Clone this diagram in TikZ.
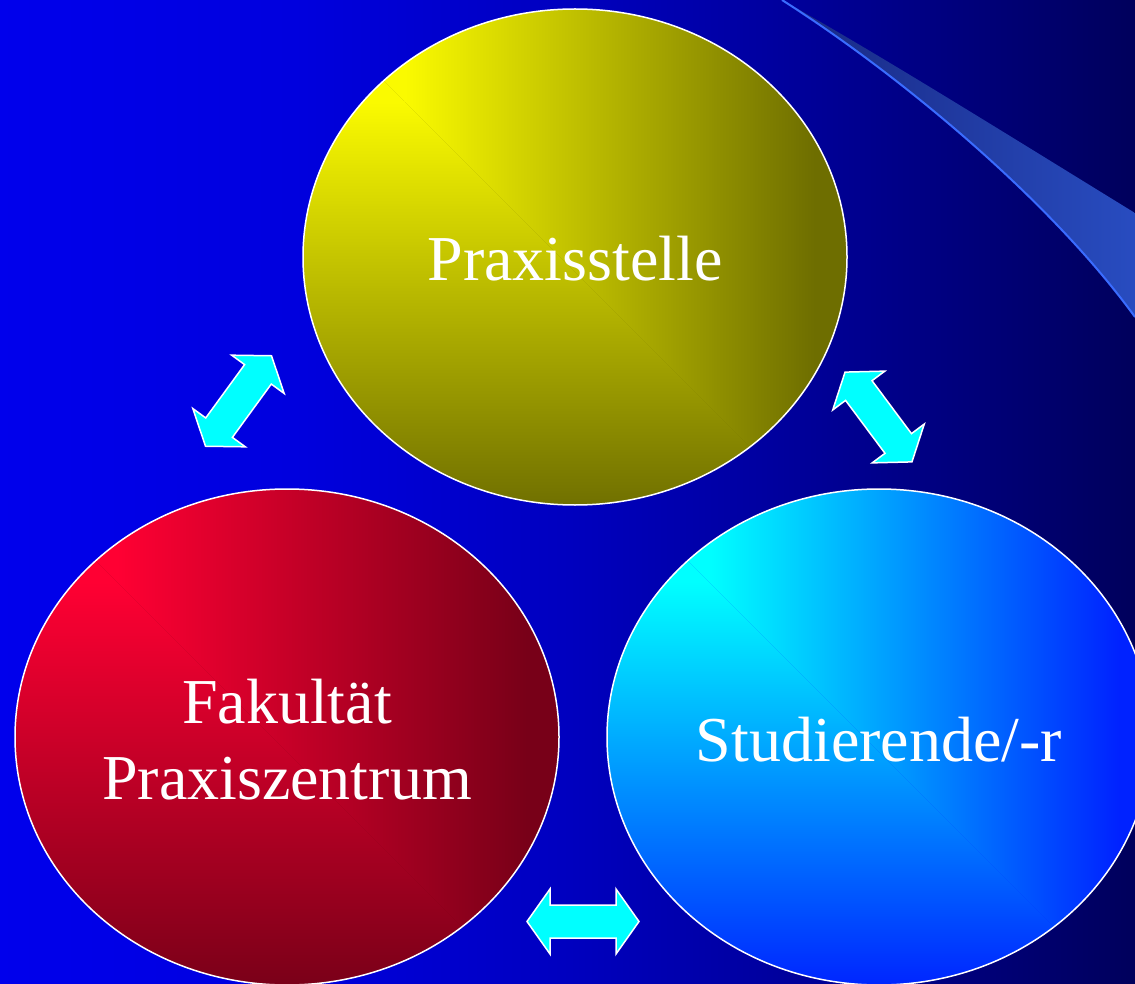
\documentclass[tikz,border=0pt]{standalone}
\usepackage{fontspec}
\setmainfont{Liberation Serif}
\usetikzlibrary{shapes.geometric}
\definecolor{yb}{RGB}{250,250,0}
\definecolor{yd}{RGB}{110,110,0}
\definecolor{rb}{RGB}{255,0,51}
\definecolor{rd}{RGB}{120,0,24}
\definecolor{cb}{RGB}{0,255,255}
\definecolor{cd}{RGB}{0,34,255}
\definecolor{arrowcyan}{RGB}{0,255,255}
\definecolor{swl}{RGB}{58,108,255}
\definecolor{swa}{RGB}{24,40,130}
\definecolor{swb}{RGB}{40,76,192}
\pgfdeclarehorizontalshading{bgshade}{100bp}{rgb(0bp)=(0,0,0.925); rgb(25bp)=(0,0,0.925); rgb(38bp)=(0,0,0.87); rgb(50bp)=(0,0,0.75); rgb(58.5bp)=(0,0,0.63); rgb(75bp)=(0,0,0.36); rgb(100bp)=(0,0,0.36)}
\newcommand\tstrut{\rule[-14pt]{0pt}{76pt}}
\newcommand\cshade[2]{%
  \coordinate (B) at ([shift={(-170,-155)}]path picture bounding box.center);
  \fill[#2] ([shift={(-800,-800)}]B) rectangle ([shift={(800,800)}]B);
  \begin{scope}
    \clip ([shift={(-700,-700)}]B) -- ([shift={(700,700)}]B) -- ([shift={(700,-700)}]B) -- cycle;
    \fill[#1] ([shift={(-700,-700)}]B) rectangle ([shift={(0,700)}]B);
    \shade[left color=#1, right color=#2] ([shift={(0,-700)}]B) rectangle ([shift={(410,700)}]B);
  \end{scope}
  \begin{scope}
    \clip ([shift={(-700,-700)}]B) -- ([shift={(700,700)}]B) -- ([shift={(-700,700)}]B) -- cycle;
    \fill[#1] ([shift={(-700,-700)}]B) rectangle ([shift={(700,0)}]B);
    \shade[top color=#1, bottom color=#2] ([shift={(-700,0)}]B) rectangle ([shift={(700,410)}]B);
  \end{scope}
}
\begin{document}
\begin{tikzpicture}[x=1pt,y=-1pt,
  bubble/.style={ellipse, minimum width=544pt, minimum height=496pt, inner sep=0pt,
    draw=white, line width=1.5pt, text=white, align=center,
    font=\fontsize{64}{76}\selectfont},
  arrowsty/.style={fill=arrowcyan, draw=white, line width=1.5pt, line join=miter},
  dblarrow/.pic={\draw[arrowsty] (-56,0) -- (-33,32.5) -- (-33,16.5) -- (33,16.5) -- (33,32.5)
      -- (56,0) -- (33,-32.5) -- (33,-16.5) -- (-33,-16.5) -- (-33,-32.5) -- cycle;}]
\useasboundingbox (0,0) rectangle (1135,984);
\clip (0,0) rectangle (1135,984);
% background
\shade[shading=bgshade] (0,0) rectangle (1135,984);
% swoosh
\coordinate (s0) at (782,0);
\coordinate (s1) at (1135,213);
\coordinate (s2) at (1135,317);
\shade[left color=swa, right color=swb] (s0) .. controls (880,55) and (1000,130) .. (s1) -- (s2)
   .. controls (1050,200) and (900,75) .. (s0) -- cycle;
\draw[swl, line width=2pt] (s0) .. controls (900,75) and (1050,200) .. (s2);
% bubbles
\node[bubble, path picture={\cshade{yb}{yd}}] (praxis) at (575,257) {\tstrut Praxisstelle};
\node[bubble, path picture={\cshade{rb}{rd}}] (fak) at (287,737) {\tstrut Fakultät\\Praxiszentrum\tstrut};
\node[bubble, path picture={\cshade{cb}{cd}}] (stud) at (879,737) {\tstrut Studierende/-r};
% arrows
\pic[rotate=53.9] (a1) at (238.5,401) {dblarrow};
\pic[rotate=-53.3] (a2) at (878.5,417) {dblarrow};
\pic (a3) at (583,921.5) {dblarrow};
\end{tikzpicture}
\end{document}
